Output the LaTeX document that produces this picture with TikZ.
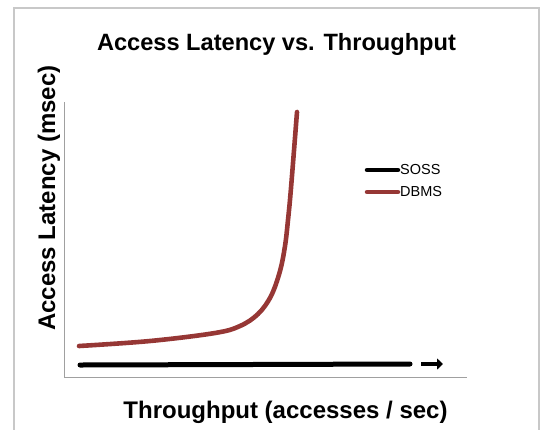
\documentclass[tikz,border=0pt]{standalone}
\usepackage{fontspec}
\setmainfont{Liberation Sans}
\usetikzlibrary{arrows.meta}
\definecolor{dbmsred}{RGB}{150,55,53}
\definecolor{framegray}{RGB}{200,200,200}
\definecolor{axisgray}{RGB}{160,160,160}
\begin{document}
\begin{tikzpicture}[x=1pt,y=-1pt,
  lbl/.style={inner sep=0pt,font=\bfseries\fontsize{24}{28}\selectfont},
  legtxt/.style={inner sep=0pt,anchor=west,font=\fontsize{14.5}{17}\selectfont},
  sossline/.style={line width=5pt,line cap=round,black},
  dbmsline/.style={line width=4.6pt,line cap=round,dbmsred},
  axisline/.style={line width=1pt,axisgray},
  frameline/.style={line width=1.5pt,framegray}]
\useasboundingbox (0,0) rectangle (540,429);
% frame
\draw[frameline] (14,432) -- (14,8) -- (539,8) -- (539,432);
% title and axis labels
\node[lbl,anchor=base,font=\bfseries\fontsize{23.6}{28}\selectfont] (title) at (276.5,50) {Access Latency vs. Throughput};
\node[lbl,anchor=base,rotate=90] (ylab) at (55,198) {Access Latency (msec)};
\node[lbl,anchor=base] (xlab) at (285.5,418) {Throughput (accesses / sec)};
% axes
\coordinate (ytop) at (64,102);
\coordinate (orig) at (64,377);
\coordinate (xend) at (467,377);
\draw[axisline] (ytop) -- (orig) -- (xend);
% DBMS curve
\draw[dbmsline] plot[smooth,tension=0.6] coordinates {(79,346) (150,341) (215,333) (240,326) (258,314) (271,296) (280,271) (285,246) (288,220) (291,188) (297,112)};
% SOSS line
\coordinate (s0) at (80,365);
\coordinate (s1) at (250,364.5);
\coordinate (s2) at (410,364);
\draw[sossline] (s0) -- (s1) -- (s2);
% arrow
\coordinate (a0) at (421,364);
\coordinate (a1) at (443,364);
\draw[line width=4pt,-{Triangle[length=6pt,width=11pt]}] (a0) -- (a1);
% legend
\coordinate (l1a) at (367,170);
\coordinate (l1b) at (398,170);
\coordinate (l2a) at (367,192);
\coordinate (l2b) at (398,192);
\draw[sossline,line width=4.5pt] (l1a) -- (l1b);
\draw[dbmsline,line width=4.5pt] (l2a) -- (l2b);
\node[legtxt] (soss) at (400,170) {SOSS};
\node[legtxt] (dbms) at (400,192) {DBMS};
\end{tikzpicture}
\end{document}
